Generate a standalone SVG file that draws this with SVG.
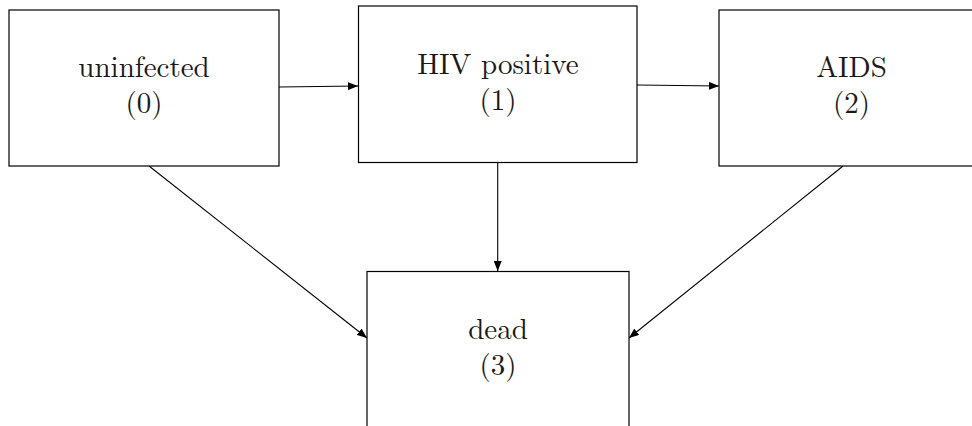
<svg xmlns="http://www.w3.org/2000/svg" width="972" height="426" viewBox="0 0 972 426">
<style>
.box{fill:#fff;stroke:#000;stroke-width:1.2}
.lbl{font-family:"Latin Modern Roman","Liberation Serif","DejaVu Serif",serif;font-size:29px;text-anchor:middle;fill:#1a1a1a}
.edge{stroke:#000;stroke-width:1.1;fill:none;marker-end:url(#ah)}
</style>
<defs>
<marker id="ah" viewBox="0 0 10 8" refX="10" refY="4" markerWidth="10" markerHeight="8" markerUnits="userSpaceOnUse" orient="auto">
<path d="M0,0 L10,4 L0,8 Z" fill="#000"/>
</marker>
</defs>
<rect width="972" height="426" fill="#fff"/>
<g id="connectors">
<line class="edge" x1="279" y1="87" x2="358" y2="86"/>
<line class="edge" x1="637" y1="85" x2="719" y2="86"/>
<line class="edge" x1="497.7" y1="163" x2="497.7" y2="271"/>
<line class="edge" x1="149" y1="166" x2="367" y2="338"/>
<line class="edge" x1="843" y1="166" x2="629" y2="338"/>
</g>
<g id="node0">
<rect class="box" x="9" y="10" width="270" height="156"/>
<text class="lbl"><tspan x="144" y="77">uninfected</tspan><tspan x="144" y="113">(0)</tspan></text>
</g>
<g id="node1">
<rect class="box" x="358.5" y="6" width="278.5" height="156.5"/>
<text class="lbl"><tspan x="498" y="74">HIV positive</tspan><tspan x="498" y="110">(1)</tspan></text>
</g>
<g id="node2">
<rect class="box" x="719" y="10" width="266" height="156"/>
<text class="lbl"><tspan x="851.5" y="77">AIDS</tspan><tspan x="851.5" y="113">(2)</tspan></text>
</g>
<g id="node3">
<rect class="box" x="367" y="271.5" width="262" height="170"/>
<text class="lbl"><tspan x="498" y="339">dead</tspan><tspan x="498" y="375">(3)</tspan></text>
</g>
</svg>
